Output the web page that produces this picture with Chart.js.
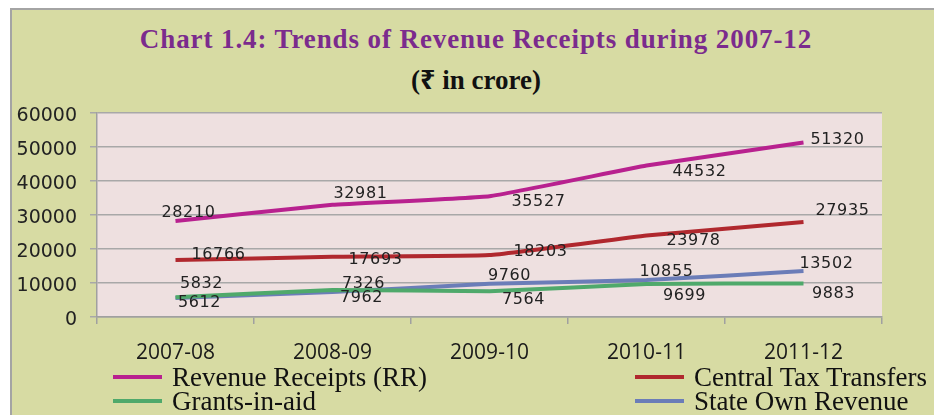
<!DOCTYPE html>
<html>
<head>
<meta charset="utf-8">
<script src="https://cdn.jsdelivr.net/npm/chart.js@4"></script>
<style>
  body { margin: 0; background: #ffffff; }
  #page { position: relative; width: 934px; height: 415px; overflow: hidden; }
  #frame {
    position: absolute; left: 10px; top: 8px; right: 0; bottom: 0;
    background: #d7dba3;
    border-left: 2px solid #a4a4a4; border-top: 2px solid #a4a4a4;
  }
  #wrap { position: absolute; left: 0; top: 0; width: 934px; height: 415px; }
  .title {
    position: absolute; left: 0; width: 952px; text-align: center;
    font-family: "Liberation Serif", "Noto Sans", serif; font-weight: bold;
    white-space: nowrap;
  }
  #t1 { top: 24px; font-size: 27px; color: #7b2b8d; letter-spacing: 0.9px; }
  #t2 { top: 60px; font-size: 27px; color: #111; }
  .leg {
    position: absolute; display: flex; align-items: center; white-space: nowrap;
    font-family: "Liberation Serif", serif; font-size: 27px; color: #111;
  }
  .leg span.sw { display: inline-block; width: 49px; height: 4px; margin-right: 10px; }
</style>
</head>
<body>
<div id="page">
  <div id="frame"></div>
  <div id="t1" class="title">Chart 1.4: Trends of Revenue Receipts during 2007-12</div>
  <div id="t2" class="title">(₹ in crore)</div>
  <div id="wrap"><canvas id="revChart"></canvas></div>
  <div id="legend"></div>
</div>
<script>
// 數據
const years = ['2007-08', '2008-09', '2009-10', '2010-11', '2011-12'];
const revenueReceipts = [28210, 32981, 35527, 44532, 51320];
const centralTaxTransfers = [16766, 17693, 18203, 23978, 27935];
const grantsInAid = [5832, 7962, 7564, 9699, 9883];
const stateOwnRevenue = [5612, 7326, 9760, 10855, 13502];
const yTicks = [0, 10000, 20000, 30000, 40000, 50000, 60000];

// 數值標籤相對於點的偏移 (px)
const labelShift = [
  [[13, -8], [28, -11], [49, 6], [53, 6], [34, -3]],
  [[43, -5], [43, 3], [51, -3], [47, 5], [39, -11]],
  [[26, -13], [29, 8], [34, 9], [38, 12], [30, 10]],
  [[24, 5], [31, -8], [20, -8], [20, -8], [23, -7]]
];

const series = [
  { label: 'Revenue Receipts (RR)', data: revenueReceipts, color: '#b8218f' },
  { label: 'Central Tax Transfers', data: centralTaxTransfers, color: '#b0282e' },
  { label: 'Grants-in-aid', data: grantsInAid, color: '#4fa96b' },
  { label: 'State Own Revenue', data: stateOwnRevenue, color: '#6b7db8' }
];

// 圖例 (兩欄)
const legendPos = [[113, 364], [635, 364], [113, 388], [635, 388]];
const legendBox = document.getElementById('legend');
series.forEach((s, i) => {
  const d = document.createElement('div');
  d.className = 'leg';
  d.style.left = legendPos[i][0] + 'px';
  d.style.top = legendPos[i][1] + 'px';
  d.style.height = '26px';
  d.innerHTML = '<span class="sw" style="background:' + s.color + '"></span>' + s.label;
  legendBox.appendChild(d);
});

// 繪圖區背景
const plotBg = {
  id: 'plotBg',
  beforeDraw(chart) {
    const a = chart.chartArea;
    const c = chart.ctx;
    c.save();
    c.fillStyle = '#eee0e0';
    c.fillRect(a.left, a.top, a.right - a.left, a.bottom - a.top);
    c.restore();
  }
};

// 數值標籤
const pointLabels = {
  id: 'pointLabels',
  afterDatasetsDraw(chart) {
    const c = chart.ctx;
    c.save();
    c.font = '16px "DejaVu Sans"';
    c.fillStyle = '#222';
    c.textAlign = 'center';
    c.textBaseline = 'middle';
    if ('letterSpacing' in c) c.letterSpacing = '0.6px';
    chart.data.datasets.forEach((ds, di) => {
      chart.getDatasetMeta(di).data.forEach((pt, i) => {
        const sh = labelShift[di][i];
        c.fillText(String(ds.data[i]), pt.x + sh[0], pt.y + sh[1]);
      });
    });
    c.restore();
  }
};

new Chart(document.getElementById('revChart'), {
  type: 'line',
  data: {
    labels: years,
    datasets: series.map(s => ({
      label: s.label,
      data: s.data,
      borderColor: s.color,
      backgroundColor: s.color,
      borderWidth: 4,
      pointRadius: 0,
      tension: 0.1,
      fill: false
    }))
  },
  options: {
    responsive: true,
    maintainAspectRatio: false,
    animation: false,
    layout: { padding: { top: 113, right: 52, left: 0, bottom: 53 } },
    plugins: {
      legend: { display: false },
      title: { display: false },
      tooltip: { enabled: false }
    },
    scales: {
      x: {
        offset: true,
        afterFit: (axis) => { axis.height = 45; },
        grid: { drawOnChartArea: false, drawTicks: true, tickLength: 7, color: '#a0a0a0', lineWidth: 1.5, offset: true },
        border: { color: '#a0a0a0', width: 1.5 },
        ticks: { color: '#1a1a1a', padding: 16, font: { family: '"Open Sans"', size: 21 } }
      },
      y: {
        min: 0,
        max: 60000,
        afterFit: (axis) => { axis.width = 97; },
        afterBuildTicks: (axis) => { axis.ticks = yTicks.map(v => ({ value: v })); },
        grid: { color: '#a8a8a8', lineWidth: 1.5, tickLength: 7 },
        border: { color: '#a0a0a0', width: 1.5 },
        ticks: {
          color: '#222', padding: 13, labelOffset: 3,
          font: { family: '"DejaVu Sans"', size: 19 },
          callback: (v) => String(v)
        }
      }
    }
  },
  plugins: [plotBg, pointLabels]
});
</script>
</body>
</html>
